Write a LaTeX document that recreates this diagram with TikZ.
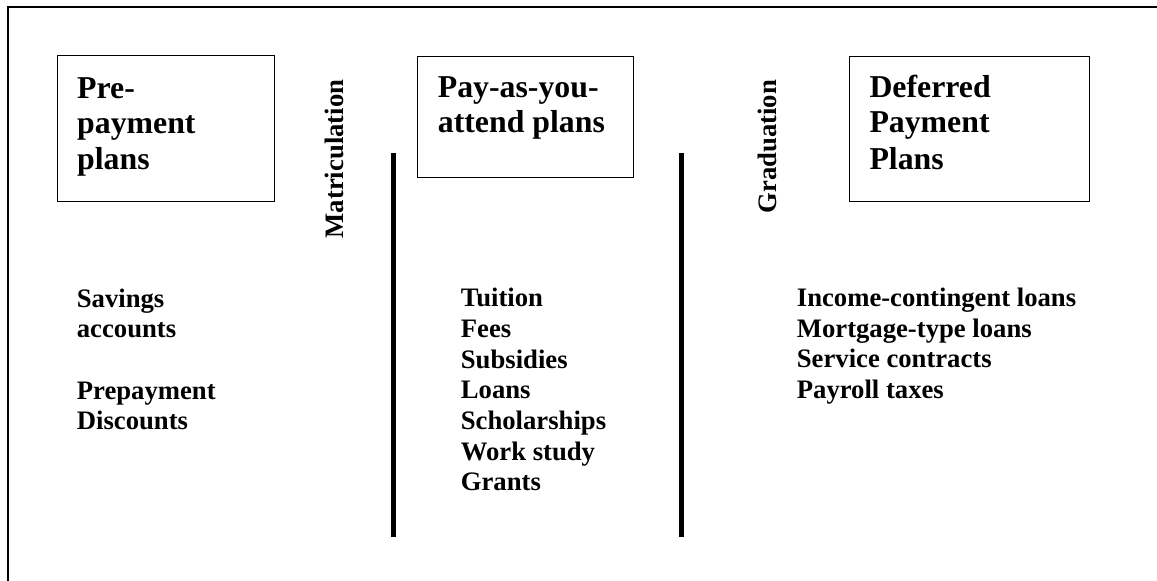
\documentclass[tikz,border=0pt]{standalone}
\usepackage{fontspec}
\setmainfont{Liberation Serif}
\begin{document}
\begin{tikzpicture}[x=1pt,y=-1pt,
  planbox/.style={draw,line width=1.2pt,inner sep=0pt,anchor=north west},
  titletext/.style={font=\fontsize{31.8}{35.5}\selectfont\bfseries,inner sep=0pt,anchor=base west},
  bodytext/.style={font=\fontsize{26.67}{30.67}\selectfont\bfseries,inner sep=0pt,anchor=base west},
  edgetext/.style={font=\fontsize{26.67}{30.67}\selectfont\bfseries,inner sep=0pt,anchor=base west,rotate=90},
  divider/.style={line width=5pt},
  frameline/.style={line width=2pt}]
\useasboundingbox (0,0) rectangle (1157,581);
\begin{scope}
\clip (0,0) rectangle (1157,581);
% outer frame (only left and top edges visible)
\coordinate (fbl) at (8,590);
\coordinate (ftl) at (8,7);
\coordinate (ftr) at (1170,7);
\draw[frameline] (fbl) -- (ftl) -- (ftr);
\end{scope}
% boxes
\node[planbox,minimum width=217pt,minimum height=146pt] (box1) at (57,55) {};
\node[planbox,minimum width=216pt,minimum height=121pt] (box2) at (417,56) {};
\node[planbox,minimum width=240pt,minimum height=145pt] (box3) at (849,56) {};
% box titles
\node[titletext] (b1l1) at (77,98) {Pre-};
\node[titletext] (b1l2) at (77,133.5) {payment};
\node[titletext] (b1l3) at (77,169) {plans};
\node[titletext] (b2l1) at (437.7,97) {Pay-as-you-};
\node[titletext] (b2l2) at (437.7,132.5) {attend plans};
\node[titletext] (b3l1) at (869.3,97) {Deferred};
\node[titletext] (b3l2) at (869.3,132.5) {Payment};
\node[titletext] (b3l3) at (869.3,169) {Plans};
% rotated labels
\node[edgetext] (matr) at (343,238.5) {Matriculation};
\node[edgetext] (grad) at (776.5,213.5) {Graduation};
% dividers
\coordinate (d1t) at (393.5,152.7);
\coordinate (d1b) at (393.5,536.7);
\coordinate (d2t) at (681,152.7);
\coordinate (d2b) at (681,536.7);
\draw[divider] (d1t) -- (d1b);
\draw[divider] (d2t) -- (d2b);
% left list
\node[bodytext] (l1) at (76.7,307) {Savings};
\node[bodytext] (l2) at (76.7,337.7) {accounts};
\node[bodytext] (l3) at (76.7,399) {Prepayment};
\node[bodytext] (l4) at (76.7,429.7) {Discounts};
% middle list
\foreach \t [count=\i] in {Tuition,Fees,Subsidies,Loans,Scholarships,Work study,Grants}
  \node[bodytext] (m\i) at (460.7,{306.7+(\i-1)*30.67}) {\t};
% right list
\foreach \t [count=\i] in {Income-contingent loans,Mortgage-type loans,Service contracts,Payroll taxes}
  \node[bodytext] (r\i) at (796.7,{306.5+(\i-1)*30.67}) {\t};
\end{tikzpicture}
\end{document}
